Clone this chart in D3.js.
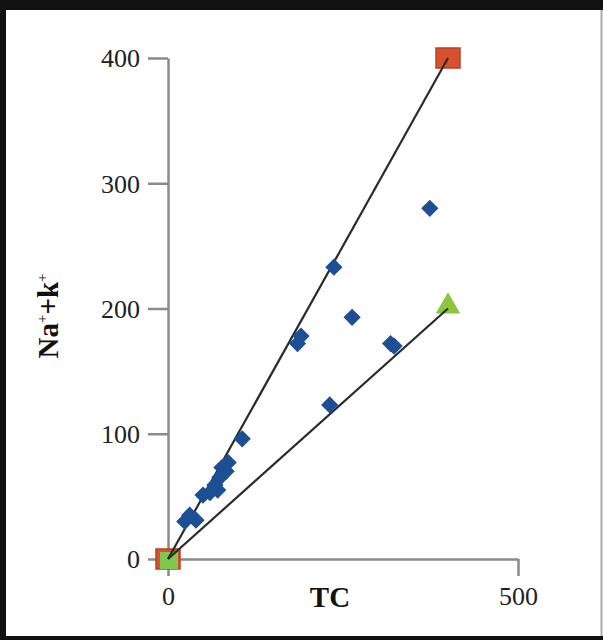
<!DOCTYPE html>
<html>
<head>
<meta charset="utf-8">
<script src="https://cdn.jsdelivr.net/npm/d3@7"></script>
<style>
  html, body { margin: 0; padding: 0; background: #fff; }
  svg { display: block; }
</style>
</head>
<body>
<svg id="chart"></svg>
<script>
// sample points (TC vs Na+ + K+)
const tcValues = [374, 237, 263, 185, 190, 318, 323, 231, 106, 86, 83, 77, 74, 71, 67, 60, 50, 40, 31, 24];
const naKValues = [280, 233, 193, 172, 178, 172, 170, 123, 96, 77, 70, 73, 65, 55, 59, 53, 51, 31, 35, 30];

// reference lines: 1:1 and 1:2
const refLine1 = [[0, 0], [400, 400]];
const refLine2 = [[0, 0], [400, 200]];

const xTicks = [0, 500];
const yTicks = [0, 100, 200, 300, 400];

(function() {
    const W = 603, H = 640;
    const svg = d3.select("#chart").attr("width", W).attr("height", H);

    // frame
    svg.append("rect").attr("x", 0).attr("y", 0).attr("width", W).attr("height", H).attr("fill", "#111");
    svg.append("rect").attr("x", 6).attr("y", 10).attr("width", W - 6).attr("height", 626).attr("fill", "#fff");
    svg.append("line").attr("x1", 601.5).attr("x2", 601.5).attr("y1", 10).attr("y2", 636)
        .attr("stroke", "#aaa").attr("stroke-width", 2);

    const x = d3.scaleLinear().domain([0, 500]).range([168, 518]);
    const y = d3.scaleLinear().domain([0, 400]).range([559, 58]);

    const font = "'Liberation Serif', 'Times New Roman', serif";
    const axisColor = "#8a8a8a";

    const yAxis = svg.append("g")
        .attr("transform", `translate(${x(0)},0)`)
        .call(d3.axisLeft(y).tickValues(yTicks).tickSize(20).tickPadding(8).tickSizeOuter(0));
    const xAxis = svg.append("g")
        .attr("transform", `translate(0,${y(0)})`)
        .call(d3.axisBottom(x).tickValues(xTicks).tickSize(17).tickPadding(8).tickSizeOuter(0));

    [xAxis, yAxis].forEach(g => {
        g.select(".domain").attr("stroke", axisColor).attr("stroke-width", 2.5);
        g.selectAll(".tick line").attr("stroke", axisColor).attr("stroke-width", 2.5);
        g.selectAll(".tick text").attr("fill", "#222").style("font-family", font).style("font-size", "26px");
    });
    yAxis.selectAll(".tick text").attr("dy", "0.34em");
    xAxis.selectAll(".tick text").attr("dy", "0.8em");

    // axis titles
    svg.append("text")
        .attr("x", 330).attr("y", 607)
        .attr("text-anchor", "middle")
        .style("font-family", font).style("font-size", "29px").style("font-weight", "bold")
        .attr("fill", "#111")
        .text("TC");

    const yt = svg.append("text")
        .attr("transform", "translate(58,316) rotate(-90)")
        .attr("text-anchor", "middle")
        .style("font-family", font).style("font-size", "29px").style("font-weight", "bold")
        .attr("fill", "#111");
    yt.append("tspan").text("Na");
    yt.append("tspan").attr("dy", -11).style("font-size", "15px").style("font-weight", "normal").text("+");
    yt.append("tspan").attr("dy", 11).text("+k");
    yt.append("tspan").attr("dy", -11).style("font-size", "15px").style("font-weight", "normal").text("+");

    // reference lines
    const line = d3.line().x(d => x(d[0])).y(d => y(d[1]));

    // end markers
    svg.selectAll(".sq").data(refLine1).enter().append("rect")
        .attr("x", d => x(d[0]) - 12).attr("y", d => y(d[1]) - 10)
        .attr("width", 24).attr("height", 20)
        .attr("fill", "#d9502f").attr("stroke", "#b8402a").attr("stroke-width", 1.5);
    svg.append("rect")
        .attr("x", x(refLine2[0][0]) - 8).attr("y", y(refLine2[0][1]) - 7)
        .attr("width", 18).attr("height", 17)
        .attr("fill", "#7ec850");
    svg.append("path")
        .attr("transform", `translate(${x(refLine2[1][0])},${y(refLine2[1][1]) - 2})`)
        .attr("d", d3.symbol().type(d3.symbolTriangle).size(260))
        .attr("fill", "#8cc63f");

    // lines drawn over the markers
    [refLine1, refLine2].forEach(l => {
        svg.append("path").datum(l)
            .attr("d", line).attr("fill", "none")
            .attr("stroke", "#2b2b2b").attr("stroke-width", 2.2);
    });

    // sample diamonds
    const pts = tcValues.map((v, i) => [v, naKValues[i]]);
    svg.selectAll(".pt").data(pts).enter().append("path")
        .attr("transform", d => `translate(${x(d[0])},${y(d[1])})`)
        .attr("d", d3.symbol().type(d3.symbolDiamond2).size(190))
        .attr("fill", "#1d4f94");
})();
</script>
</body>
</html>
